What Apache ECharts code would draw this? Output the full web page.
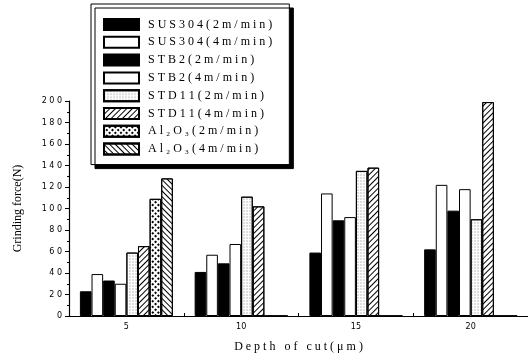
<!DOCTYPE html>
<html>
<head>
<meta charset="utf-8">
<script src="https://cdn.jsdelivr.net/npm/echarts@6/dist/echarts.min.js"></script>
<style>
  html, body { margin: 0; padding: 0; background: #fff; }
  #chart { width: 528px; height: 358px; }
</style>
</head>
<body>
<div id="chart"></div>
<script>
// depth of cut (um)
const depths = ['5', '10', '15', '20'];

// grinding force (N) per material / speed
const sus304_2 = [23, 41, 59, 62];
const sus304_4 = [39, 57, 114, 122];
const stb2_2 = [33, 49, 89, 98];
const stb2_4 = [30, 67, 92, 118];
const std11_2 = [59, 111, 135, 90];
const std11_4 = [65, 102, 138, 199];
const al2o3_2 = [109, 0, 0, 0];
const al2o3_4 = [128, 0, 0, 0];

const names = [
  'SUS304(2m/min)', 'SUS304(4m/min)', 'STB2(2m/min)', 'STB2(4m/min)',
  'STD11(2m/min)', 'STD11(4m/min)', 'Al₂O₃(2m/min)', 'Al₂O₃(4m/min)'
];
const values = [sus304_2, sus304_4, stb2_2, stb2_4, std11_2, std11_4, al2o3_2, al2o3_4];

const serif = '"Liberation Serif", "DejaVu Serif", serif';

// fill styles, in the same order as the series
const styles = [
  { color: '#000' },
  { color: '#fff' },
  { color: '#000' },
  { color: '#fff' },
  { color: '#fff', decal: { symbol: 'rect', symbolSize: 0.5, dashArrayX: [2, 1], dashArrayY: [2, 1], color: '#777' } },
  { color: '#fff', decal: { symbol: 'rect', symbolSize: 1, dashArrayX: [1, 0], dashArrayY: [1, 2.6], rotation: -Math.PI / 4, color: '#000' } },
  { color: '#fff', decal: { symbol: 'rect', symbolSize: 1, dashArrayX: [1.5, 1.2], dashArrayY: [1.5, 1.2], rotation: Math.PI / 4, color: '#000' } },
  { color: '#fff', decal: { symbol: 'rect', symbolSize: 1, dashArrayX: [1, 0], dashArrayY: [1, 2.6], rotation: Math.PI / 4, color: '#000' } }
];

const spaced = s => s.split('').join(' ');

const chart = echarts.init(document.getElementById('chart'));

chart.setOption({
  animation: false,
  backgroundColor: '#fff',
  grid: { left: 69, right: 0, top: 101, bottom: 41 },
  legend: {
    orient: 'vertical',
    left: 91,
    top: 4,
    padding: [14, 17, 9, 12],
    itemWidth: 35,
    itemHeight: 11,
    itemGap: 4.8,
    icon: 'rect',
    backgroundColor: '#fff',
    borderColor: '#000',
    borderWidth: 1,
    shadowColor: '#000',
    shadowBlur: 0,
    shadowOffsetX: 4,
    shadowOffsetY: 4,
    formatter: spaced,
    textStyle: { fontFamily: serif, fontSize: 12, color: '#000', padding: [0, 0, 0, 4] }
  },
  xAxis: {
    type: 'category',
    data: depths,
    name: spaced('Depth of cut(μm)'),
    nameLocation: 'middle',
    nameGap: 25,
    nameTextStyle: { fontFamily: serif, fontSize: 12, color: '#000' },
    axisLine: { lineStyle: { color: '#000', width: 1 } },
    axisTick: { show: true, length: 3, inside: true, lineStyle: { color: '#000' } },
    axisLabel: { fontSize: 8, color: '#000', margin: 7, fontFamily: 'DejaVu Sans' }
  },
  yAxis: {
    type: 'value',
    min: 0,
    max: 200,
    interval: 20,
    name: 'Grinding force(N)',
    nameLocation: 'middle',
    nameGap: 45,
    nameTextStyle: { fontFamily: serif, fontSize: 12, color: '#000' },
    splitLine: { show: false },
    axisLine: { show: true, lineStyle: { color: '#000', width: 1.2 } },
    axisTick: { show: true, length: 4, lineStyle: { color: '#000' } },
    minorTick: { show: true, splitNumber: 2, length: 2, lineStyle: { color: '#000' } },
    axisLabel: { fontSize: 8, color: '#000', margin: 7, fontFamily: 'DejaVu Sans', formatter: v => spaced(String(v)) }
  },
  series: names.map((n, i) => ({
    name: n,
    type: 'bar',
    data: values[i],
    barGap: '0%',
    barCategoryGap: '19%',
    itemStyle: Object.assign({ borderColor: '#000', borderWidth: 1 }, styles[i])
  }))
});
</script>
</body>
</html>
